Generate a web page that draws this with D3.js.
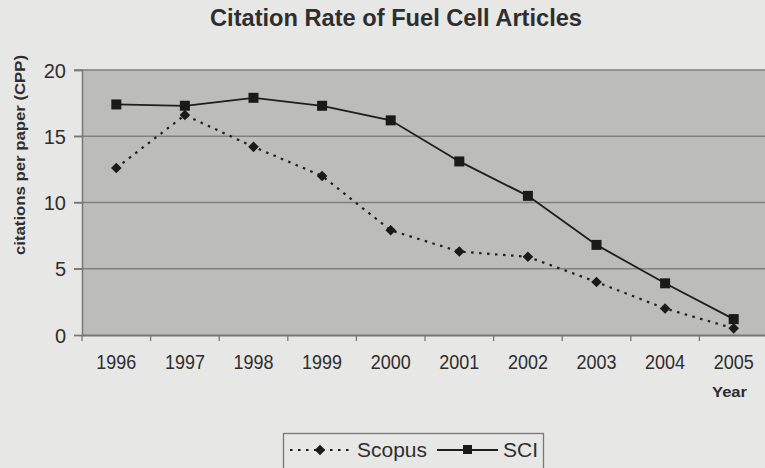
<!DOCTYPE html>
<html>
<head>
<meta charset="utf-8">
<script src="https://cdn.jsdelivr.net/npm/d3@7"></script>
<style>
  body { margin: 0; background: #e7e7e5; }
  #canvas { width: 765px; height: 468px; overflow: hidden; }
  text { font-family: "Liberation Sans", Arial, sans-serif; fill: #2e2e2e; }
  .title { font-weight: bold; font-size: 23px; }
  .axis-label { font-weight: bold; font-size: 15px; }
  .tick-label { font-size: 20px; }
</style>
</head>
<body>
<div id="canvas"></div>
<script>
const years = ["1996","1997","1998","1999","2000","2001","2002","2003","2004","2005"];
const scopus = [12.6, 16.6, 14.2, 12.0, 7.9, 6.3, 5.9, 4.0, 2.0, 0.5];
const sci = [17.4, 17.3, 17.9, 17.3, 16.2, 13.1, 10.5, 6.8, 3.9, 1.2];
const yTicks = [0, 5, 10, 15, 20];

const w = 765;
const h = 468;
const margin = {
  top: 70,
  bottom: 133,
  left: 82,
  right: -3
}

function render(){
  const width = w - (margin.left + margin.right);
  const height = h - (margin.top + margin.bottom);
  const svg = d3.select("#canvas")
                .append("svg")
                .attr("width", w)
                .attr("height", h)

  svg.append("text")
     .classed("title", true)
     .attr("x", 210)
     .attr("y", 26)
     .attr("textLength", 372)
     .attr("lengthAdjust", "spacingAndGlyphs")
     .text("Citation Rate of Fuel Cell Articles")

  const chart = svg.append("g")
              .attr("transform", "translate(" + margin.left + "," + margin.top + ")")

  const x = d3.scaleBand()
              .domain(years)
              .range([0, width])

  const y = d3.scaleLinear()
              .domain([0, 20])
              .range([height, 0])

  //plot area
  chart.append("rect")
       .attr("width", width)
       .attr("height", height)
       .style("fill", "#bcbcba")

  //gridlines
  chart.selectAll(".grid")
       .data(yTicks.filter(d => d > 0))
       .enter()
       .append("line")
       .attr("x1", -8)
       .attr("x2", width)
       .attr("y1", d => y(d))
       .attr("y2", d => y(d))
       .style("stroke", "#808080")
       .style("stroke-width", 1.3)

  //y axis
  const yAxis = d3.axisLeft(y).tickValues(yTicks).tickSize(8).tickPadding(8)
  const gy = chart.append("g").call(yAxis)
  gy.select(".domain").style("stroke", "#777").style("stroke-width", 1.5)
  gy.selectAll(".tick line").style("stroke", "#777").style("stroke-width", 1.3)
  gy.selectAll(".tick text").classed("tick-label", true)
    .attr("font-family", null).attr("font-size", null).attr("fill", "#3a3a3a")
    .attr("dy", "0.36em")

  //x axis with ticks on the band edges
  const xAxis = d3.axisBottom(x).tickSize(0).tickPadding(0)
  const gx = chart.append("g")
                  .attr("transform", "translate(0," + height + ")")
                  .call(xAxis)
  gx.select(".domain").style("stroke", "#777").style("stroke-width", 2)
  gx.selectAll(".tick text").classed("tick-label", true)
    .attr("font-family", null).attr("font-size", null).attr("fill", "#3a3a3a")
    .attr("y", 34).attr("dy", null)
    .attr("textLength", 40)
    .attr("lengthAdjust", "spacingAndGlyphs")
  gx.selectAll(".edge")
    .data(years)
    .enter()
    .append("line")
    .attr("x1", d => x(d))
    .attr("x2", d => x(d))
    .attr("y1", 0)
    .attr("y2", 6)
    .style("stroke", "#777")
    .style("stroke-width", 1.3)

  svg.append("text")
     .classed("axis-label", true)
     .attr("x", 712)
     .attr("y", 397)
     .attr("textLength", 35)
     .attr("lengthAdjust", "spacingAndGlyphs")
     .text("Year")

  svg.append("text")
     .classed("axis-label", true)
     .attr("transform", "translate(25,255) rotate(-90)")
     .attr("textLength", 200)
     .attr("lengthAdjust", "spacingAndGlyphs")
     .text("citations per paper (CPP)")

  const cx = d => x(d) + x.bandwidth() / 2
  const line = d3.line()
                 .x((d, i) => cx(years[i]))
                 .y(d => y(d))

  //Scopus dotted line
  chart.append("path")
       .datum(scopus)
       .attr("d", line)
       .style("fill", "none")
       .style("stroke", "#1e1e1e")
       .style("stroke-width", 2.2)
       .style("stroke-dasharray", "2.5,5.5")

  //SCI solid line
  chart.append("path")
       .datum(sci)
       .attr("d", line)
       .style("fill", "none")
       .style("stroke", "#1e1e1e")
       .style("stroke-width", 1.8)

  const diamond = d3.symbol().type(d3.symbolSquare).size(56)
  chart.selectAll(".scopus-point")
       .data(scopus)
       .enter()
       .append("path")
       .attr("d", diamond)
       .attr("transform", (d, i) => "translate(" + cx(years[i]) + "," + y(d) + ") rotate(45)")
       .style("fill", "#1a1a1a")

  chart.selectAll(".sci-point")
       .data(sci)
       .enter()
       .append("rect")
       .attr("x", (d, i) => cx(years[i]) - 5)
       .attr("y", d => y(d) - 5)
       .attr("width", 10)
       .attr("height", 10)
       .style("fill", "#1a1a1a")

  //legend
  const legend = svg.append("g")
  legend.append("rect")
        .attr("x", 283.5)
        .attr("y", 433.5)
        .attr("width", 260)
        .attr("height", 40)
        .style("fill", "#e7e7e5")
        .style("stroke", "#777")
        .style("stroke-width", 1.3)
  legend.append("line")
        .attr("x1", 290).attr("x2", 350).attr("y1", 450).attr("y2", 450)
        .style("stroke", "#1e1e1e").style("stroke-width", 2)
        .style("stroke-dasharray", "2.5,5.5")
  legend.append("path")
        .attr("d", diamond)
        .attr("transform", "translate(320,450) rotate(45)")
        .style("fill", "#1a1a1a")
  legend.append("text")
        .classed("tick-label", true)
        .attr("x", 357).attr("y", 457)
        .attr("textLength", 70)
        .attr("lengthAdjust", "spacingAndGlyphs")
        .text("Scopus")
  legend.append("line")
        .attr("x1", 437).attr("x2", 498).attr("y1", 450).attr("y2", 450)
        .style("stroke", "#1e1e1e").style("stroke-width", 1.8)
  legend.append("rect")
        .attr("x", 463).attr("y", 445).attr("width", 9).attr("height", 9)
        .style("fill", "#1a1a1a")
  legend.append("text")
        .classed("tick-label", true)
        .attr("x", 503).attr("y", 457)
        .attr("textLength", 35)
        .attr("lengthAdjust", "spacingAndGlyphs")
        .text("SCI")
}

render()
</script>
</body>
</html>
